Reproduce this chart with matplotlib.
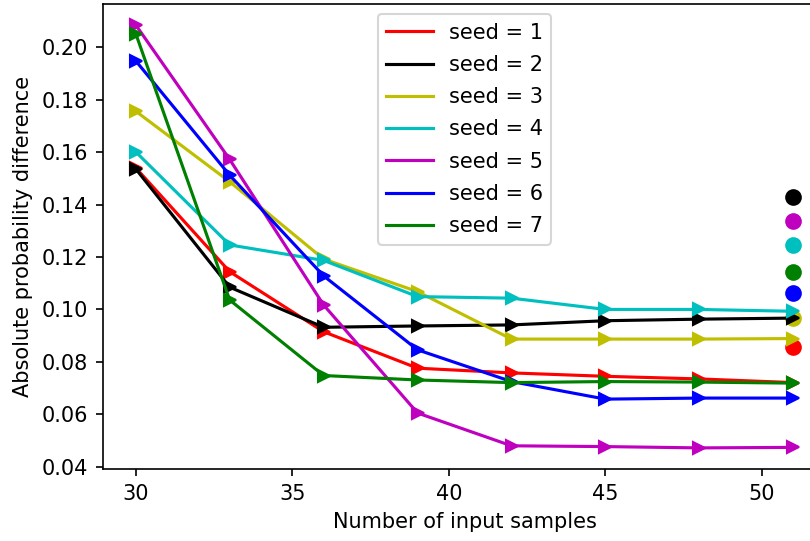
import matplotlib
matplotlib.use("Agg")
import matplotlib.pyplot as plt

x = [30, 33, 36, 39, 42, 45, 48, 51]
seeds = [1, 2, 3, 4, 5, 6, 7]
colors = ['r', 'k', 'y', 'c', 'm', 'b', 'g']

s1 = [0.1540, 0.1144, 0.0915, 0.0776, 0.0758, 0.0745, 0.0735, 0.0721]
s2 = [0.1536, 0.1085, 0.0932, 0.0937, 0.0941, 0.0957, 0.0963, 0.0967]
s3 = [0.1756, 0.1487, 0.1192, 0.1068, 0.0887, 0.0887, 0.0887, 0.0889]
s4 = [0.1601, 0.1246, 0.1187, 0.1049, 0.1043, 0.1000, 0.1000, 0.0993]
s5 = [0.2085, 0.1572, 0.1017, 0.0605, 0.0480, 0.0477, 0.0472, 0.0474]
s6 = [0.1948, 0.1512, 0.1128, 0.0846, 0.0725, 0.0658, 0.0662, 0.0662]
s7 = [0.2052, 0.1036, 0.0748, 0.0731, 0.0721, 0.0725, 0.0723, 0.0719]
series = [s1, s2, s3, s4, s5, s6, s7]

# circle markers at the last x position
dot_x = 51
dot_y = [0.0856, 0.1427, 0.0966, 0.1246, 0.1337, 0.1062, 0.1142]

fig = plt.figure(figsize=(5.4, 541 / 150), dpi=150)
ax = fig.add_axes([0.127, 0.133, 0.893, 0.860])

for c, yv in zip(colors, dot_y):
    ax.plot([dot_x], [yv], 'o', color=c, markersize=7, zorder=1)

for s, c, yv in zip(seeds, colors, series):
    ax.plot(x, yv, color=c, label=f"seed = {s}", zorder=2)
    ax.plot(x, yv, '>', color=c, zorder=2)

ax.set_xlabel("Number of input samples")
ax.set_ylabel("Absolute probability difference")
ax.set_xticks([30, 35, 40, 45, 50])
ax.set_yticks([0.04, 0.06, 0.08, 0.10, 0.12, 0.14, 0.16, 0.18, 0.20])
ax.legend(loc='upper center', labelspacing=0.59, handlelength=2.25,
          handletextpad=0.75)

fig.savefig("out.png", dpi=150)
